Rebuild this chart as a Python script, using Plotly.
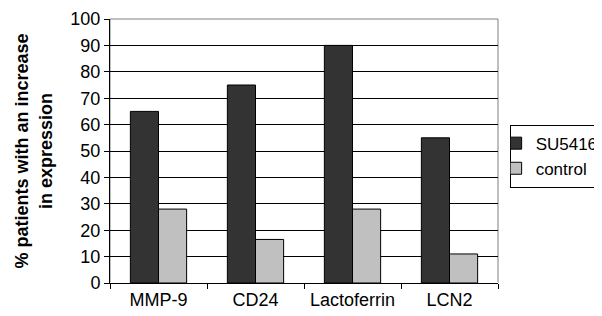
import plotly.graph_objects as go

categories = ["MMP-9", "CD24", "Lactoferrin", "LCN2"]
su5416 = [65, 75, 90, 55]
control = [28, 16.5, 28, 11]
y_ticks = [0, 10, 20, 30, 40, 50, 60, 70, 80, 90, 100]

fig = go.Figure()
fig.add_trace(go.Bar(x=categories, y=su5416, name="SU5416",
                     marker=dict(color="#333333", line=dict(color="black", width=1))))
fig.add_trace(go.Bar(x=categories, y=control, name="control",
                     marker=dict(color="#c0c0c0", line=dict(color="black", width=1))))

# page body has an 8px default margin, so the figure is sized to fit the window
fig.update_layout(
    width=594, height=308,
    margin=dict(l=102, r=104, t=11, b=33, autoexpand=False),
    paper_bgcolor="white", plot_bgcolor="white",
    font=dict(family="Liberation Sans, Arial, sans-serif", size=18, color="black"),
    barmode="group", bargap=0.42, bargroupgap=0,
    showlegend=True,
    legend=dict(x=1.03, y=0.6, xanchor="left", yanchor="top",
                bordercolor="black", borderwidth=1, bgcolor="white",
                font=dict(size=17), tracegroupgap=0, itemwidth=30,
                indentation=-15),
)
fig.update_xaxes(showline=True, linecolor="black", linewidth=1, automargin=False,
                 ticks="outside", tickson="boundaries", ticklen=5, tickcolor="black",
                 mirror=False, showgrid=False, tickfont=dict(size=18))
fig.update_yaxes(range=[0, 100], tickvals=y_ticks, showline=True, linecolor="black",
                 linewidth=1, ticks="outside", ticklen=5, tickcolor="black", automargin=False,
                 showgrid=True, gridcolor="black", gridwidth=1, tickfont=dict(size=18),
                 title=dict(text="<b>% patients with an increase<br>in expression</b>",
                            font=dict(size=18), standoff=13))
fig.add_shape(type="rect", xref="paper", yref="paper", x0=0, y0=0, x1=1, y1=1,
              line=dict(color="#808080", width=1), layer="below")
fig.write_html("out.html")
